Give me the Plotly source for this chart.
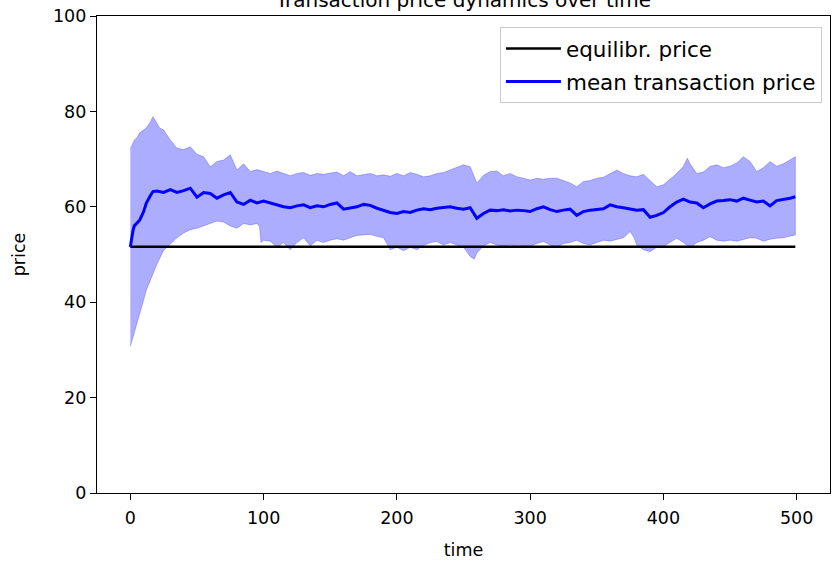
import plotly.graph_objects as go

equilibrium_price = 51.6
time_max = 499

mean_t = [0, 1, 2, 3, 5, 7, 10, 12, 15, 17, 20, 25, 30, 35, 40, 45, 50, 55, 60, 65, 70, 75, 80, 85, 90, 95,
          100, 105, 110, 115, 120, 125, 130, 135, 140, 145, 150, 155, 160, 165, 170, 175, 180, 185, 190, 195,
          200, 205, 210, 215, 220, 225, 230, 235, 240, 245, 250, 255, 260, 265, 270, 275, 280, 285, 290, 295,
          300, 305, 310, 315, 320, 325, 330, 335, 340, 345, 350, 355, 360, 365, 370, 375, 380, 385, 390, 395,
          400, 405, 410, 415, 420, 425, 430, 435, 440, 445, 450, 455, 460, 465, 470, 475, 480, 485, 490, 495, 499]
mean_v = [51.6, 53.5, 55.0, 56.0, 56.5, 57.2, 59.0, 60.8, 62.3, 63.2, 63.3, 63.0, 63.6, 63.0, 63.4, 63.9, 62.0, 63.0, 62.8, 61.8, 62.5, 63.0, 61.0, 60.5, 61.4, 60.8,
          61.2, 60.8, 60.5, 60.0, 59.8, 60.2, 60.4, 59.8, 60.2, 60.0, 60.5, 60.8, 59.5, 59.8, 60.0, 60.5, 60.3, 59.7, 59.2, 58.8,
          58.6, 59.0, 58.8, 59.3, 59.6, 59.4, 59.7, 59.8, 60.0, 59.7, 59.5, 59.8, 57.6, 58.6, 59.3, 59.2, 59.4, 59.1, 59.3, 59.2,
          59.0, 59.6, 60.0, 59.4, 59.0, 59.3, 59.5, 58.2, 59.0, 59.3, 59.4, 59.6, 60.4, 60.0, 59.8, 59.5, 59.3, 59.4, 57.8, 58.2,
          58.8, 60.0, 61.0, 61.6, 61.0, 60.8, 59.8, 60.6, 61.2, 61.3, 61.5, 61.2, 61.8, 61.4, 61.0, 61.2, 60.2, 61.3, 61.5, 61.8, 62.1]

upper_t = [0, 1, 3, 5, 7, 10, 12, 15, 17, 20, 22, 25, 30, 35, 40, 45, 50, 55, 60, 65, 70, 75, 80, 85, 90, 95,
           100, 105, 110, 115, 120, 125, 130, 135, 140, 145, 150, 155, 160, 165, 170, 175, 180, 185, 190, 195,
           200, 205, 210, 215, 220, 225, 230, 235, 240, 245, 250, 255, 260, 265, 270, 275, 280, 285, 290, 295,
           300, 305, 310, 315, 320, 325, 330, 335, 340, 345, 350, 355, 360, 365, 370, 375, 380, 385, 390, 395,
           400, 405, 410, 415, 418, 420, 425, 430, 435, 440, 445, 450, 455, 460, 465, 470, 475, 480, 485, 490, 495, 499]
upper_v = [72.5, 72.7, 74.0, 74.5, 75.5, 76.0, 76.5, 77.8, 78.9, 77.5, 76.5, 76.1, 74.0, 72.3, 72.0, 72.6, 71.0, 70.5, 68.4, 69.5, 69.8, 70.9, 67.7, 69.0, 67.4, 67.8,
           67.4, 67.0, 67.5, 67.0, 66.5, 67.0, 67.2, 66.6, 67.0, 66.8, 67.0, 67.3, 66.5, 67.4, 66.5, 66.8, 67.0, 66.5, 66.7, 66.4,
           67.0, 66.5, 67.2, 66.8, 66.3, 66.5, 67.0, 67.2, 67.7, 68.2, 68.8, 68.4, 65.0, 66.6, 67.4, 67.5, 66.5, 67.0, 66.3, 66.0,
           65.6, 66.0, 65.8, 66.0, 66.0, 65.5, 65.0, 64.2, 65.3, 65.5, 66.0, 66.2, 67.0, 67.7, 67.0, 66.5, 66.3, 66.8, 65.5, 64.2,
           64.6, 65.8, 67.0, 68.5, 70.2, 69.0, 67.0, 67.3, 68.5, 68.8, 68.2, 68.5, 69.2, 70.5, 69.5, 67.4, 68.2, 69.5, 68.5, 69.0, 69.8, 70.5]

lower_t = [0, 1, 2, 3, 5, 7, 10, 12, 15, 17, 20, 25, 30, 35, 40, 45, 50, 55, 60, 65, 70, 75, 80, 85, 90, 95, 97, 98,
           100, 105, 110, 115, 120, 125, 130, 135, 140, 145, 150, 155, 160, 165, 170, 175, 180, 185, 190, 195,
           200, 205, 210, 215, 220, 225, 230, 235, 240, 245, 250, 255, 258, 260, 265, 270, 275, 280, 285, 290, 295,
           300, 305, 310, 315, 320, 325, 330, 335, 340, 345, 350, 355, 360, 365, 370, 375, 378, 380, 385, 390, 395,
           400, 405, 410, 415, 420, 425, 430, 435, 440, 445, 450, 455, 460, 465, 470, 475, 480, 485, 490, 495, 499]
lower_v = [30.7, 31.5, 33.0, 34.0, 35.6, 37.5, 40.5, 42.5, 44.5, 46.0, 48.0, 50.9, 52.3, 53.5, 54.5, 55.2, 55.5, 56.0, 56.5, 57.0, 56.8, 56.0, 55.5, 56.5, 56.2, 56.5, 55.8, 52.5,
           53.0, 52.8, 51.5, 52.5, 51.0, 52.5, 53.5, 51.8, 53.0, 52.5, 53.0, 53.3, 53.0, 53.5, 54.0, 54.1, 54.2, 53.8, 53.5, 51.0,
           51.5, 50.8, 51.5, 51.0, 51.9, 52.5, 52.7, 52.0, 52.5, 52.0, 51.5, 49.6, 49.0, 50.3, 51.8, 52.5, 52.0, 51.7, 52.0, 51.5, 51.8,
           51.7, 52.3, 52.7, 52.0, 51.5, 52.3, 52.5, 53.0, 52.3, 52.0, 52.5, 53.0, 52.8, 53.2, 53.5, 54.8, 53.5, 52.0, 51.0, 50.6, 51.5,
           51.7, 52.5, 53.4, 52.5, 51.4, 52.5, 53.0, 53.7, 53.0, 52.8, 53.0, 52.8, 53.2, 53.5, 53.4, 52.8, 53.2, 53.4, 53.5, 53.8, 54.1]

x_ticks = [0, 100, 200, 300, 400, 500]
y_ticks = [0, 20, 40, 60, 80, 100]

FONT = "DejaVu Sans"
FS = 17.5
LEG_FS = 21.5

fig = go.Figure()

band_x = upper_t + lower_t[::-1]
band_y = upper_v + lower_v[::-1]
fig.add_trace(go.Scatter(
    x=band_x, y=band_y, fill="toself", mode="lines",
    fillcolor="rgba(0,0,255,0.32)", line=dict(color="rgba(0,0,255,0.25)", width=1),
    showlegend=False, hoverinfo="skip"))

fig.add_trace(go.Scatter(
    x=[0, time_max], y=[equilibrium_price, equilibrium_price], mode="lines",
    line=dict(color="black", width=2.5), name="equilibr. price", legendgroup="a"))

fig.add_trace(go.Scatter(
    x=mean_t, y=mean_v, mode="lines",
    line=dict(color="blue", width=3), name="mean transaction price", legendgroup="b"))

axis_common = dict(showline=True, linecolor="black", linewidth=1.3, mirror=True,
                   ticks="outside", ticklen=6, tickwidth=1.3, tickcolor="black",
                   showgrid=False, zeroline=False,
                   tickfont=dict(family=FONT, size=FS, color="black"))

fig.update_xaxes(range=[-25, 525], tickvals=x_ticks, ticktext=[str(v) for v in x_ticks],
                 ticklabelstandoff=3,
                 title=dict(text="time", font=dict(family=FONT, size=FS, color="black"), standoff=16),
                 **axis_common)
fig.update_yaxes(range=[0, 100], tickvals=y_ticks, ticktext=[str(v) for v in y_ticks],
                 title=dict(text="price", font=dict(family=FONT, size=FS, color="black"), standoff=22),
                 **axis_common)

fig.update_layout(
    width=832, height=561,
    margin=dict(l=97, r=2, t=16, b=68),
    paper_bgcolor="white", plot_bgcolor="white",
    font=dict(family=FONT, size=FS, color="black"),
    title=dict(text="Transaction price dynamics over time", x=0.557, xanchor="center",
               yref="container", y=1 - 7 / 561, yanchor="bottom",
               font=dict(family=FONT, size=20, color="black")),
    legend=dict(x=0.989, y=0.977, xanchor="right", yanchor="top",
                bgcolor="rgba(255,255,255,0.8)", bordercolor="#cccccc", borderwidth=1,
                tracegroupgap=2, itemwidth=55,
                font=dict(family=FONT, size=LEG_FS, color="black")),
    showlegend=True,
)

fig.write_html("out.html")
